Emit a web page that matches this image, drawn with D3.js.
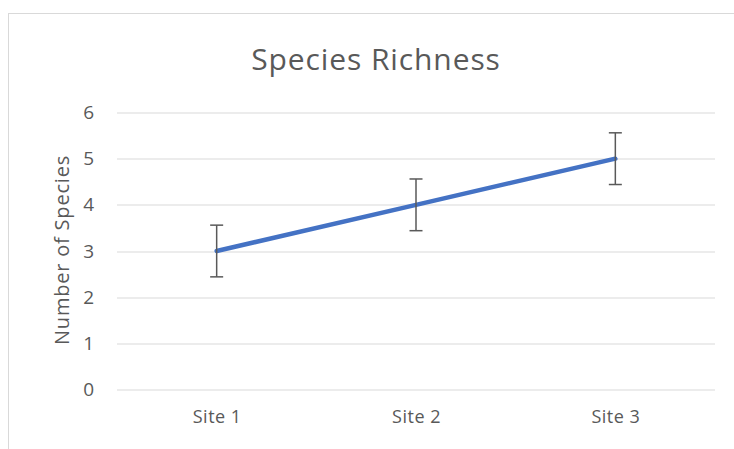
<!DOCTYPE html>
<html>
<head>
<meta charset="utf-8">
<script src="https://cdn.jsdelivr.net/npm/d3@7"></script>
<style>
  body { margin: 0; background: #fff; }
  svg { display: block; }
</style>
</head>
<body>
<svg id="chart"></svg>
<script>
// chart data
const sites = ["Site 1", "Site 2", "Site 3"];
const richness = [3, 4, 5];
const errors = [0.56, 0.56, 0.56];
const yTicks = [0, 1, 2, 3, 4, 5, 6];

const width = 734;
const height = 449;
const margin = { top: 112.5, right: 19, bottom: 59.5, left: 117 };
const innerW = width - margin.left - margin.right;
const innerH = height - margin.top - margin.bottom;
const font = "Open Sans, sans-serif";
const textColor = "#595959";

const svg = d3.select("#chart")
    .attr("width", width)
    .attr("height", height);

// chart frame
svg.append("rect")
    .attr("x", 8.5)
    .attr("y", 13.5)
    .attr("width", width)
    .attr("height", height)
    .attr("fill", "#fff")
    .attr("stroke", "#d9d9d9")
    .attr("stroke-width", 1);

// title
svg.append("text")
    .attr("x", 376)
    .attr("y", 70)
    .attr("text-anchor", "middle")
    .attr("font-family", font)
    .attr("font-size", 30)
    .attr("letter-spacing", 0.9)
    .attr("fill", textColor)
    .text("Species Richness");

const g = svg.append("g")
    .attr("transform", `translate(${margin.left},${margin.top})`);

const xScale = d3.scalePoint()
    .domain(sites)
    .range([0, innerW])
    .padding(0.5);

const yScale = d3.scaleLinear()
    .domain([0, 6])
    .range([innerH, 0]);

// gridlines
g.selectAll("line.grid")
    .data(yTicks)
    .enter()
    .append("line")
    .attr("class", "grid")
    .attr("x1", 0)
    .attr("x2", innerW)
    .attr("y1", (d) => Math.round(yScale(d)) + 0.5)
    .attr("y2", (d) => Math.round(yScale(d)) + 0.5)
    .attr("stroke", "#d9d9d9")
    .attr("stroke-width", 1);

// y axis labels
const yAxis = g.append("g")
    .call(d3.axisLeft(yScale).tickValues(yTicks).tickFormat(d3.format("d")).tickSize(0).tickPadding(23));
yAxis.select(".domain").remove();
yAxis.selectAll("text")
    .attr("font-family", font)
    .attr("font-size", 19)
    .attr("fill", textColor);

// x axis labels
const xAxis = g.append("g")
    .attr("transform", `translate(0,${innerH})`)
    .call(d3.axisBottom(xScale).tickSize(0).tickPadding(21));
xAxis.select(".domain").remove();
xAxis.selectAll("text")
    .attr("font-family", font)
    .attr("font-size", 18)
    .attr("letter-spacing", 0.5)
    .attr("fill", textColor);

// y axis title
svg.append("text")
    .attr("transform", `translate(69,${margin.top + innerH * 0.5 - 1}) rotate(-90)`)
    .attr("text-anchor", "middle")
    .attr("font-family", font)
    .attr("font-size", 20)
    .attr("letter-spacing", 0.8)
    .attr("fill", textColor)
    .text("Number  of Species");

// line
const line = d3.line()
    .x((d, i) => xScale(sites[i]))
    .y((d) => yScale(d));

g.append("path")
    .datum(richness)
    .attr("d", line)
    .attr("fill", "none")
    .attr("stroke", "#4472c4")
    .attr("stroke-width", 4.5)
    .attr("stroke-linecap", "round");

// error bars
const capW = 6.5;
const bars = g.selectAll("g.err")
    .data(richness)
    .enter()
    .append("g")
    .attr("class", "err")
    .attr("stroke", "#595959")
    .attr("stroke-width", 1.5);

bars.append("line")
    .attr("x1", (d, i) => xScale(sites[i]))
    .attr("x2", (d, i) => xScale(sites[i]))
    .attr("y1", (d, i) => yScale(d + errors[i]))
    .attr("y2", (d, i) => yScale(d - errors[i]));

bars.append("line")
    .attr("x1", (d, i) => xScale(sites[i]) - capW)
    .attr("x2", (d, i) => xScale(sites[i]) + capW)
    .attr("y1", (d, i) => yScale(d + errors[i]))
    .attr("y2", (d, i) => yScale(d + errors[i]));

bars.append("line")
    .attr("x1", (d, i) => xScale(sites[i]) - capW)
    .attr("x2", (d, i) => xScale(sites[i]) + capW)
    .attr("y1", (d, i) => yScale(d - errors[i]))
    .attr("y2", (d, i) => yScale(d - errors[i]));
</script>
</body>
</html>
